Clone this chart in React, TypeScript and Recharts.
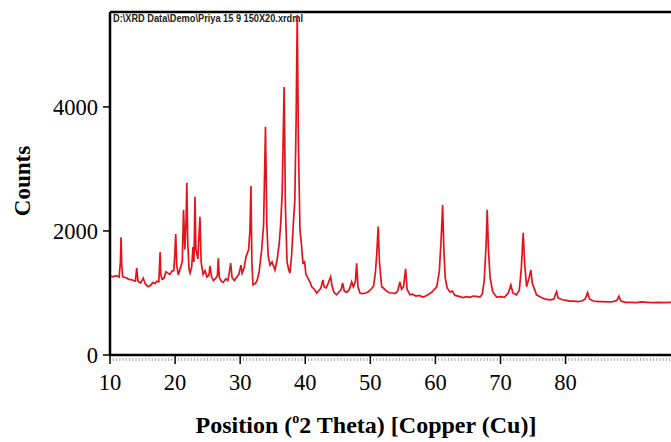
import { Line, LineChart, ReferenceLine, XAxis, YAxis } from "recharts";

// XRD pattern
const twoTheta = [
  10.0, 10.5, 11.0, 11.4, 11.6, 11.7, 11.8, 11.95, 12.4, 12.9, 13.3, 13.6, 13.9, 14.1, 14.3, 14.7,
  15.1, 15.4, 15.8, 16.2, 16.6, 16.9, 17.2, 17.5, 17.6, 17.7, 17.8, 18.0, 18.3, 18.6, 18.9, 19.2,
  19.5, 19.8, 19.95, 20.1, 20.25, 20.5, 20.8, 21.1, 21.3, 21.5, 21.7, 21.8, 21.95, 22.15, 22.3,
  22.55, 22.75, 22.9, 23.06, 23.2, 23.5, 23.82, 24.0, 24.3, 24.6, 24.9, 25.2, 25.36, 25.6, 25.9,
  26.2, 26.5, 26.64, 26.8, 27.1, 27.4, 27.8, 28.1, 28.3, 28.54, 28.75, 29.1, 29.5, 29.8, 30.12,
  30.3, 30.6, 30.89, 31.3, 31.5, 31.66, 31.8, 31.97, 32.3, 32.6, 32.9, 33.3, 33.6, 33.89, 34.1,
  34.3, 34.58, 34.9, 35.35, 35.7, 36.0, 36.22, 36.45, 36.76, 36.95, 37.2, 37.45, 37.65, 37.9,
  38.16, 38.4, 38.6, 38.77, 38.95, 39.19, 39.4, 39.65, 39.9, 40.1, 40.41, 40.7, 41.0, 41.4, 41.75,
  42.1, 42.4, 42.72, 42.9, 43.2, 43.5, 43.9, 44.1, 44.4, 44.82, 45.2, 45.5, 45.75, 46.0, 46.4,
  46.8, 47.13, 47.4, 47.7, 47.9, 48.1, 48.4, 48.8, 49.3, 49.7, 50.1, 50.5, 50.8, 51.0, 51.21,
  51.4, 51.74, 52.0, 52.4, 52.8, 53.1, 53.47, 53.8, 54.2, 54.55, 54.8, 55.1, 55.42, 55.65, 56.08,
  56.5, 57.0, 57.5, 58.08, 58.5, 59.0, 59.4, 59.77, 60.2, 60.6, 60.9, 61.11, 61.3, 61.5, 61.8,
  62.23, 62.6, 63.0, 63.5, 64.22, 64.8, 65.3, 65.8, 66.3, 66.84, 67.2, 67.5, 67.8, 67.96, 68.15,
  68.4, 68.8, 69.4, 70.0, 70.6, 71.2, 71.6, 71.9, 72.47, 72.9, 73.2, 73.49, 73.7, 74.01, 74.4,
  74.67, 74.9, 75.54, 76.2, 76.9, 77.59, 78.2, 78.45, 78.62, 78.85, 79.5, 80.1, 80.66, 81.3, 81.9,
  82.5, 83.0, 83.38, 83.7, 84.3, 85.0, 85.73, 86.5, 87.3, 87.9, 88.19, 88.5, 89.2, 90.0, 90.9,
  91.7, 92.5, 93.4, 94.3, 95.2, 96.2,
];

const counts = [
  1270, 1265, 1280, 1255, 1500, 1900, 1450, 1260, 1250, 1220, 1215, 1200, 1190, 1400, 1190, 1160,
  1240, 1150, 1100, 1120, 1170, 1150, 1190, 1180, 1400, 1660, 1300, 1220, 1240, 1340, 1320, 1300,
  1350, 1360, 1600, 1950, 1450, 1290, 1400, 1500, 2340, 1700, 2200, 2775, 1800, 1380, 1320,
  1420, 1740, 1500, 2550, 1700, 1550, 2230, 1500, 1300, 1360, 1260, 1290, 1435, 1260, 1200,
  1230, 1280, 1560, 1250, 1190, 1170, 1230, 1200, 1300, 1480, 1250, 1200, 1260, 1300, 1450,
  1320, 1400, 1580, 1700, 2000, 2725, 1500, 1130, 1150, 1200, 1330, 1690, 2100, 3680, 2100,
  1600, 1450, 1500, 1370, 1550, 1800, 2100, 2600, 4320, 2400, 1500, 1380, 1320, 1600,
  2100, 2500, 3800, 5480, 3400, 2020, 1800, 1480, 1500, 1300, 1240, 1180, 1100, 1060, 1000,
  1040, 1080, 1210, 1100, 1080, 1150, 1260, 1120, 1010, 970, 1020, 1050, 1160, 1030, 1010,
  1060, 1180, 1100, 1180, 1480, 1100, 1000, 990, 1000, 1020, 1060, 1110, 1350, 1650, 2070,
  1500, 1100, 1080, 1040, 1010, 1000, 1000, 990, 1030, 1180, 1060, 1100, 1390, 1060, 970,
  980, 950, 960, 935, 950, 980, 1010, 1050, 1100, 1350, 1900, 2420, 1700, 1250, 1080,
  1015, 1030, 960, 950, 925, 940, 930, 950, 945, 935, 980, 1200, 1800, 2340, 1700,
  1250, 1020, 935, 940, 930, 1000, 1130, 1000, 970, 1050, 1400, 1970, 1500, 1100, 1250,
  1370, 1150, 970, 930, 900, 890, 900, 980, 1020, 920, 890, 880, 870, 870, 860,
  870, 900, 1005, 900, 870, 860, 860, 855, 860, 880, 950, 870, 850, 850, 845,
  855, 850, 845, 850, 845, 850,
];

const xTicks = [10, 20, 30, 40, 50, 60, 70, 80];
const yTicks = [0, 2000, 4000];
const yMax = 5530;
// minor ruler ticks every half degree under the x axis
const minorTicks = Array.from({ length: 173 }, (_, i) => 10 + i * 0.5);

const data = twoTheta.map((x, i) => ({ x, y: counts[i] }));

const serif = "'Liberation Serif', 'Times New Roman', serif";

function XTick(props: any) {
  const { x, y, payload } = props;
  const v = payload.value;
  const major = xTicks.includes(v);
  if (!major) {
    return <line x1={x} x2={x} y1={y + 3} y2={y + 6} stroke="#aaa" strokeWidth={1} />;
  }
  return (
    <g>
      <line x1={x} x2={x} y1={y} y2={y + 9} stroke="#000" strokeWidth={1.5} />
      <text x={x} y={y + 35} textAnchor="middle" fontFamily={serif} fontSize={22.5} fill="#000">
        {v}
      </text>
    </g>
  );
}

export default function App() {
  return (
    <div style={{ position: "absolute", left: 0, top: 0, background: "#fff" }}>
      <LineChart
        width={671}
        height={442}
        data={data}
        margin={{ top: 12, right: 0, bottom: 57, left: 0 }}
      >
        <XAxis
          dataKey="x"
          type="number"
          domain={[10, 96.2]}
          allowDataOverflow
          ticks={[...minorTicks]}
          interval={0}
          tick={<XTick />}
          tickLine={false}
          tickSize={0}
          tickMargin={0}
          height={30}
          axisLine={{ stroke: "#000", strokeWidth: 2.5 }}
        />
        <YAxis
          type="number"
          domain={[0, yMax]}
          allowDataOverflow
          ticks={yTicks}
          width={110}
          tickSize={7}
          tickMargin={5}
          tick={{ fontFamily: serif, fontSize: 22.5, fill: "#000" }}
          tickLine={{ stroke: "#000", strokeWidth: 1.5 }}
          axisLine={{ stroke: "#000", strokeWidth: 2.5 }}
        />
        <ReferenceLine y={yMax} stroke="#000" strokeWidth={2.5} />
        <Line
          type="linear"
          dataKey="y"
          stroke="#e5121a"
          strokeWidth={1.7}
          dot={false}
          isAnimationActive={false}
        />
        <text
          x={113}
          y={22}
          fontFamily="'Liberation Sans Narrow', 'Liberation Sans', Arial, sans-serif"
          fontSize={11}
          fontWeight="bold"
          textLength={190}
          lengthAdjust="spacingAndGlyphs"
          fill="#222"
        >
          D:\XRD Data\Demo\Priya 15 9 150X20.xrdml
        </text>
        <text
          x={0}
          y={0}
          transform="translate(30 181) rotate(-90)"
          textAnchor="middle"
          fontFamily={serif}
          fontWeight="bold"
          fontSize={23}
          fill="#000"
        >
          Counts
        </text>
        <text
          x={366}
          y={433}
          textAnchor="middle"
          fontFamily={serif}
          fontWeight="bold"
          fontSize={24}
          fill="#000"
        >
          Position (<tspan fontSize={14} dy={-10}>o</tspan>
          <tspan dy={10}>2 Theta) [Copper (Cu)]</tspan>
        </text>
      </LineChart>
    </div>
  );
}
